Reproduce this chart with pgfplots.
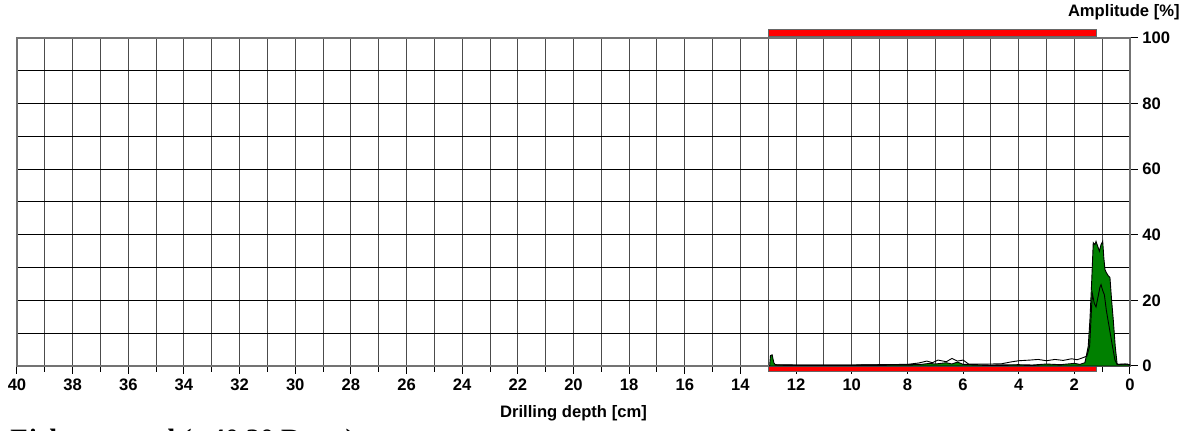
\documentclass[border=0pt]{standalone}
\usepackage{fontspec}
\setmainfont{Liberation Sans}
\newfontfamily\serifbold{Liberation Serif}
\usepackage{pgfplots}
\pgfplotsset{compat=1.18}
\definecolor{dg}{RGB}{0,128,0}
\begin{document}
\begin{tikzpicture}
\useasboundingbox (-8.5pt,-32.5pt) rectangle (589pt,183pt);
\begin{axis}[
  at={(0,0)}, anchor=south west,
  scale only axis, width=556.5pt, height=164pt,
  x dir=reverse, xmin=0, xmax=40, ymin=0, ymax=100,
  xtick={0,2,...,40}, minor xtick={1,3,...,39},
  ytick={0,20,...,100}, minor ytick={10,30,...,90},
  grid=both,
  x grid style={black!70, line width=0.5pt},
  y grid style={black, line width=0.5pt},
  axis line style={black!55, line width=0.6pt},
  yticklabel pos=right,
  ytick pos=right, xtick pos=bottom,
  tick align=outside,
  major tick length=4pt, minor tick length=3pt,
  tick style={black, line width=0.5pt},
  minor y tick style={draw=none},
  tick label style={font=\fontsize{8.3}{9}\selectfont\bfseries},
  /pgf/number format/assume math mode=true,
  xticklabel style={anchor=base, yshift=-8.5pt, inner sep=0pt},
  yticklabel style={anchor=west, inner sep=0pt, xshift=2pt},
  clip=false,
  axis on top=false,
]
% red bars
\addplot[fill=red, draw=black!60, line width=0.4pt] coordinates {(13,100.4) (1.22,100.4) (1.22,102.6) (13,102.6)} -- cycle;
\addplot[fill=red, draw=black!60, line width=0.4pt] coordinates {(13,-0.2) (1.22,-0.2) (1.22,-1.8) (13,-1.8)} -- cycle;
% green amplitude area
\addplot[fill=dg, draw=black, line width=0.45pt] coordinates {
(12.95,0) (12.92,3.2) (12.86,3.4) (12.8,1.0) (12.75,0.4) (12,0.3) (10,0.3) (8,0.4)
(7.5,0.5) (7.2,0.8) (7.0,0.6) (6.6,1.0) (6.4,0.6) (6.2,1.2) (6.0,0.5) (5,0.3)
(4.0,0.4) (3.5,0.3) (3.0,0.6) (2.5,0.4) (2.0,0.8) (1.8,0.5) (1.62,1) (1.5,6)
(1.44,14) (1.38,25) (1.32,37.6) (1.26,37) (1.22,38) (1.16,36.5) (1.10,35)
(1.04,37) (0.98,38) (0.94,33) (0.90,29.4) (0.85,28.5) (0.78,27.5) (0.72,27)
(0.66,20) (0.60,14) (0.53,6) (0.46,0.5) (0.3,0.5) (0.1,0.6) (0,0.3)
} \closedcycle;
% second curve
\addplot[black, line width=0.45pt] coordinates {
(12.7,0.3) (10,0.3) (8.0,0.5) (7.6,0.9) (7.3,1.5) (7.1,1.0) (6.9,1.8) (6.6,1.3)
(6.4,2.3) (6.2,1.5) (6.0,1.8) (5.8,0.6) (5.0,0.6) (4.6,0.7) (4.3,1.2) (4.0,1.6)
(3.6,1.8) (3.3,2.0) (3.0,1.6) (2.7,2.0) (2.4,1.7) (2.1,2.2) (1.9,1.9) (1.7,2.5)
(1.55,3) (1.45,6) (1.38,18) (1.35,22) (1.28,19) (1.22,18) (1.15,21) (1.08,24)
(1.04,24.8) (0.98,23) (0.92,21.7) (0.85,17) (0.75,12) (0.65,7) (0.54,1.8)
(0.46,0.5) (0.2,0.6) (0,0.4)
};
\node[anchor=base east, inner sep=0pt, font=\fontsize{8.3}{9}\selectfont\bfseries] at (axis description cs:1,1) [xshift=25pt, yshift=10.5pt] {Amplitude [\%]};
\node[anchor=base, inner sep=0pt, font=\fontsize{8.3}{9}\selectfont\bfseries] at (axis description cs:0.5,0) [yshift=-26pt] {Drilling depth [cm]};
\node[anchor=base west, inner sep=0pt, font=\fontsize{14}{16}\selectfont\serifbold\bfseries] at (axis description cs:0,0) [xshift=-3.5pt, yshift=-41.5pt] {Eiche, gesund (c 40,30 Rot...)};
\end{axis}
\end{tikzpicture}
\end{document}
